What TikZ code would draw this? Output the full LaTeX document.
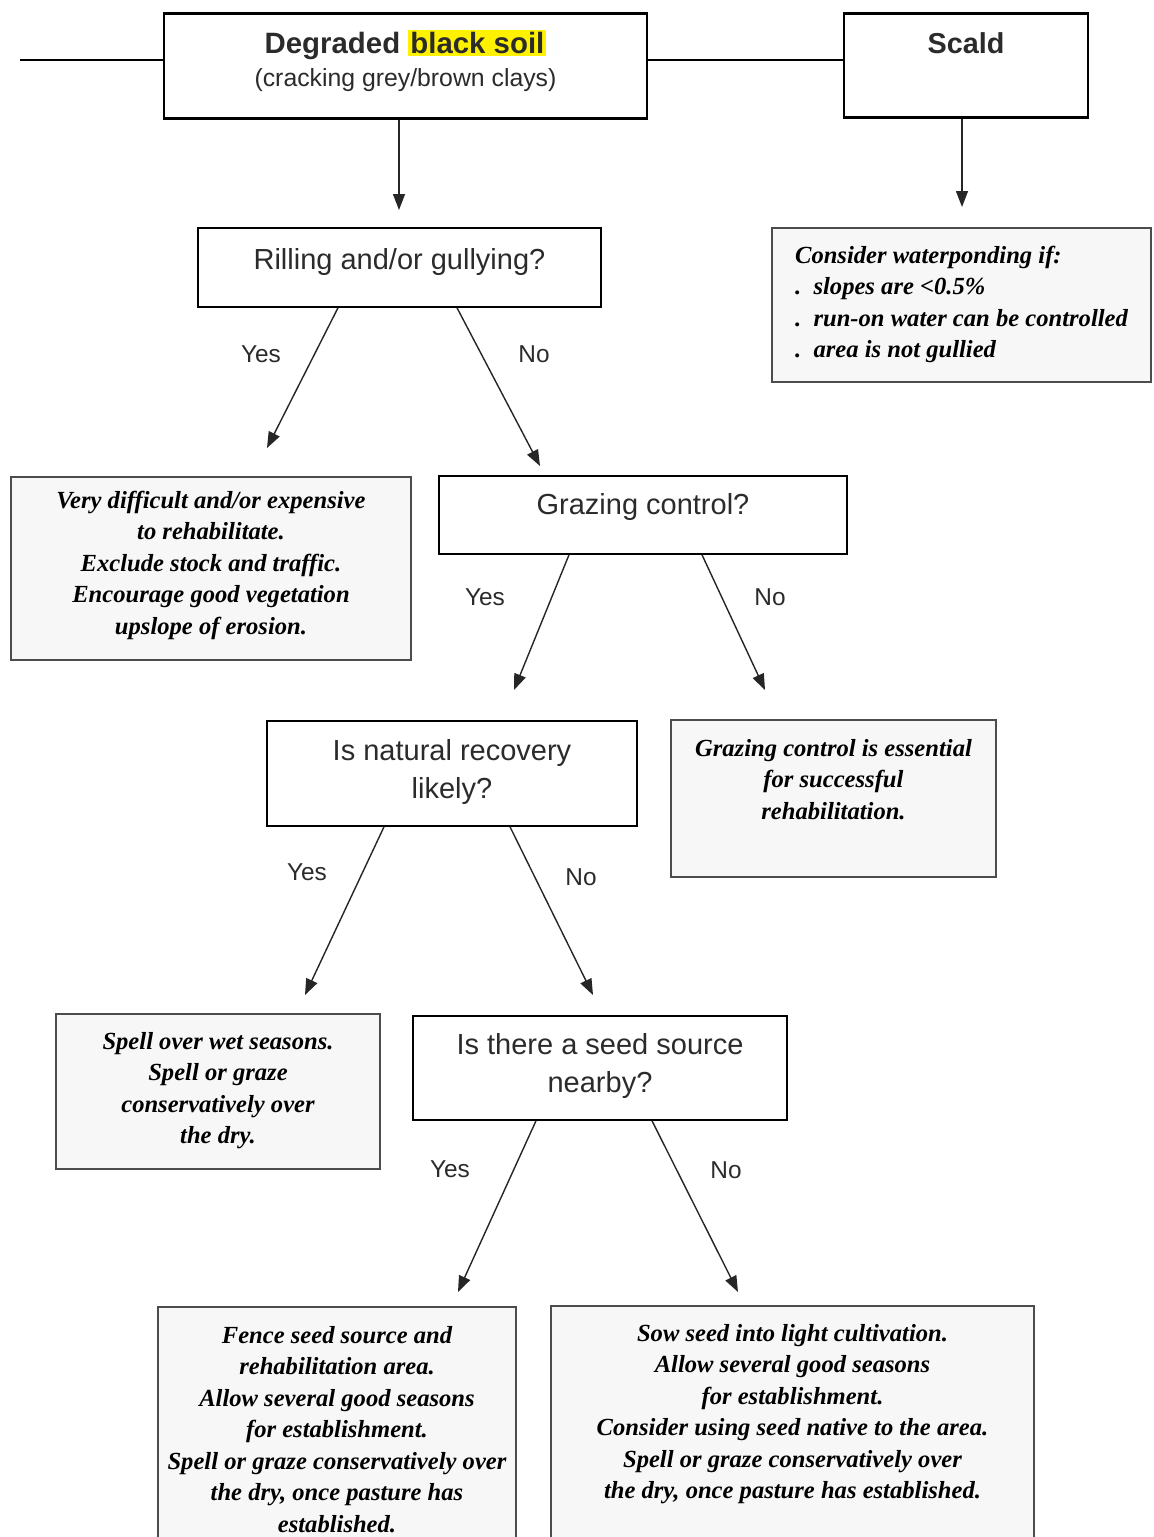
\documentclass[tikz,border=0pt]{standalone}
\usepackage{fontspec}
\setmainfont{Liberation Serif}
\setsansfont{Liberation Sans}
\usetikzlibrary{arrows.meta}

\definecolor{hilite}{HTML}{FFF200}
\definecolor{inkgrey}{HTML}{2B2B2B}
\newcommand{\hlt}[1]{{\setlength{\fboxsep}{1pt}\colorbox{hilite}{#1}}}

\tikzset{
  boxbase/.style={anchor=north, inner xsep=0pt, inner ysep=0pt, align=center},
  question/.style={boxbase, draw, line width=0.9pt, text=inkgrey,
    font=\sffamily\fontsize{14.5}{18.75}\selectfont},
  answer/.style={boxbase, draw=black!70, line width=1pt, fill=black!3,
    font=\rmfamily\fontsize{12.3}{15.75}\selectfont\bfseries\itshape},
  lbl/.style={text=inkgrey, font=\sffamily\fontsize{12.2}{14}\selectfont},
  arr/.style={-{Triangle[length=8pt,width=6pt]}, line width=0.7pt, black!85},
}

\begin{document}
\begin{tikzpicture}[x=0.5pt, y=-0.5pt]
\useasboundingbox (0,0) rectangle (1153,1537);
\fill[white] (0,0) rectangle (1153,1537);
\clip (0,0) rectangle (1153,1537);

% top row (text height runs down to the last line's baseline)
\node[question, line width=1.4pt, minimum width=241.5pt, text height=36.5pt, text depth=16pt,
  font=\sffamily\fontsize{14.7}{16.5}\selectfont] (soil) at (405.5,12)
  {\textbf{Degraded \hlt{black soil}}\\{\fontsize{12.4}{15}\selectfont(cracking grey/brown clays)}};
\node[question, line width=1.4pt, minimum width=122pt, text height=20pt, text depth=32pt,
  font=\sffamily\bfseries\fontsize{14.4}{16.5}\selectfont] (scald) at (966,12) {Scald};

\coordinate (lead) at (20,60);
\draw[line width=1pt] (lead) -- (lead -| soil.west);
\draw[line width=1pt] (soil.east |- lead) -- (scald.west |- lead);

\coordinate (soilTip) at (399,210);
\coordinate (scaldTip) at (962,207);
\draw[arr] (soil.south -| soilTip) -- (soilTip);
\draw[arr] (scald.south -| scaldTip) -- (scaldTip);

% first question
\node[question, minimum width=201.5pt, text height=21pt, text depth=18.5pt] (rilling)
  at (399.5,227) {Rilling and/or gullying?};
\node[answer, align=left, minimum width=189.5pt, text height=64.75pt, text depth=12.25pt] (pond)
  at (961.5,227) {Consider waterponding if:\\.\ \ slopes are <0.5\%\\.\ \ run-on water can be controlled\\.\ \ area is not gullied};

\coordinate (rYesTip) at (267,448);
\coordinate (rNoTip) at (540,466);
\draw[arr] ([shift={(-61.5,0)}]rilling.south) -- (rYesTip);
\draw[arr] ([shift={(57.5,0)}]rilling.south) -- (rNoTip);
\node[lbl] (rYes) at (261,354) {Yes};
\node[lbl] (rNo) at (534,354) {No};

\node[answer, minimum width=200pt, text height=78.5pt, text depth=13pt] (difficult)
  at (211,476) {Very difficult and/or expensive\\to rehabilitate.\\Exclude stock and traffic.\\Encourage good vegetation\\upslope of erosion.};
\node[question, minimum width=204pt, text height=19.5pt, text depth=19.5pt] (grazing)
  at (643,475) {Grazing control?};

\coordinate (gYesTip) at (514,690);
\coordinate (gNoTip) at (765,690);
\draw[arr] ([shift={(-74,0)}]grazing.south) -- (gYesTip);
\draw[arr] ([shift={(59,0)}]grazing.south) -- (gNoTip);
\node[lbl] (gYes) at (485,597) {Yes};
\node[lbl] (gNo) at (770,597) {No};

\node[question, minimum width=185pt, text height=38.75pt, text depth=13.75pt] (natural)
  at (452,720) {Is natural recovery\\likely?};
\node[answer, minimum width=162.5pt, text height=49.5pt, text depth=29pt] (essential)
  at (833.5,719) {Grazing control is essential\\for successful\\rehabilitation.};

\coordinate (nYesTip) at (305,995);
\coordinate (nNoTip) at (593,995);
\draw[arr] ([shift={(-68,0)}]natural.south) -- (nYesTip);
\draw[arr] ([shift={(58,0)}]natural.south) -- (nNoTip);
\node[lbl] (nYes) at (307,872) {Yes};
\node[lbl] (nNo) at (581,877) {No};

\node[answer, minimum width=162pt, text height=64.75pt, text depth=12.75pt] (spell)
  at (218,1013) {Spell over wet seasons.\\Spell or graze\\conservatively over\\the dry.};
\node[question, minimum width=187pt, text height=38.25pt, text depth=13.75pt] (seed)
  at (600,1015) {Is there a seed source\\nearby?};

\coordinate (sYesTip) at (458,1292);
\coordinate (sNoTip) at (738,1292);
\draw[arr] ([shift={(-64,0)}]seed.south) -- (sYesTip);
\draw[arr] ([shift={(52,0)}]seed.south) -- (sNoTip);
\node[lbl] (sYes) at (450,1169) {Yes};
\node[lbl] (sNo) at (726,1170) {No};

% last row, cut by the page edge
\node[answer, minimum width=179pt, text height=112.5pt, text depth=20.5pt] (fence)
  at (337,1306) {Fence seed source and\\rehabilitation area.\\Allow several good seasons\\for establishment.\\Spell or graze conservatively over\\the dry, once pasture has\\established.};
\node[answer, minimum width=241.5pt, text height=96.25pt, text depth=36.25pt] (sow)
  at (792.5,1305) {Sow seed into light cultivation.\\Allow several good seasons\\for establishment.\\Consider using seed native to the area.\\Spell or graze conservatively over\\the dry, once pasture has established.};
\end{tikzpicture}
\end{document}
